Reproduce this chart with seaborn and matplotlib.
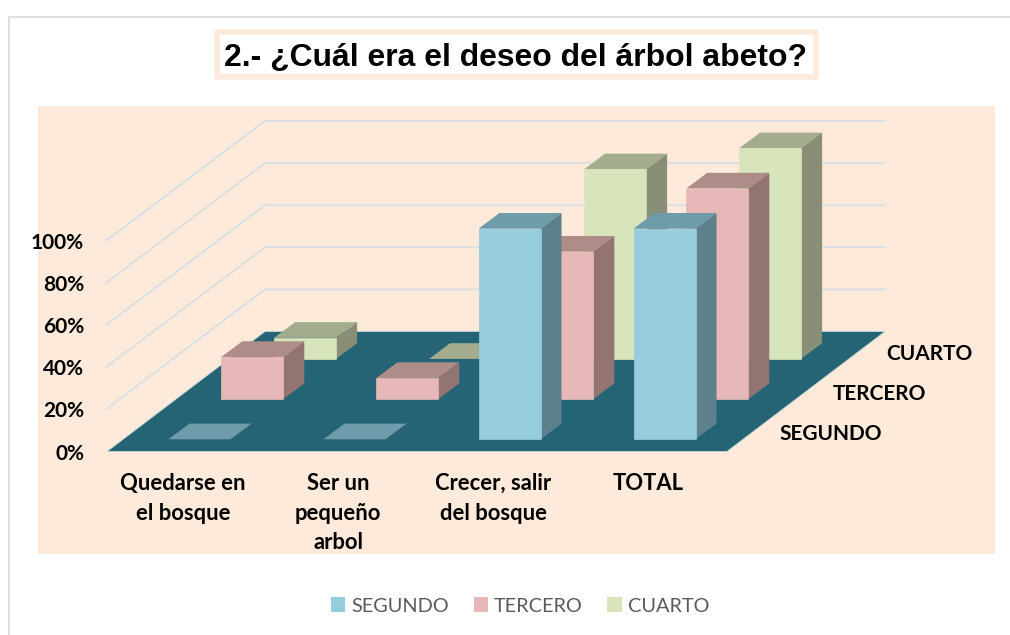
import matplotlib
matplotlib.use("Agg")
import matplotlib.pyplot as plt
from matplotlib.patches import Patch, Polygon, Rectangle
import numpy as np
import seaborn as sns

## Datos

categorias = ["Quedarse en\nel bosque", "Ser un\npequeño\narbol", "Crecer, salir\ndel bosque", "TOTAL"]
series = ["SEGUNDO", "TERCERO", "CUARTO"]
segundo = [0, 0, 100, 100]
tercero = [20, 10, 70, 100]
cuarto = [10, 0, 90, 100]
ticks = [0, 20, 40, 60, 80, 100]
titulo = "2.- ¿Cuál era el deseo del árbol abeto?"

## Colores: (frente, lado, tapa)

COLORES = {
    "SEGUNDO": ("#95cddd", "#5c808c", "#6f9cab"),
    "TERCERO": ("#e6b9b8", "#927473", "#ae8c88"),
    "CUARTO": ("#d8e4bc", "#898f77", "#a3ad8e"),
}
PANEL = "#fdeada"
PISO = "#246475"
REJILLA = "#dcdfe2"

# escala de la proyeccion oblicua, en pixeles de la imagen
PX_CAT = 155.0
PX_PCT = 2.106
X0 = 199.5
Y0 = 439.3
ANCHO = 0.4
PROF_X = 21 / PX_CAT
PROF_Y = 15.7 / PX_PCT
SERIE_X = 52.8 / PX_CAT
SERIE_Y = 40.2 / PX_PCT

sns.set_theme(style="white")
plt.rcParams["font.family"] = ["Lato", "DejaVu Sans"]

fig = plt.figure(figsize=(10.10, 6.35), dpi=100)

# Fondo en pixeles: marco, panel, paredes, piso y textos
fondo = fig.add_axes([0, 0, 1, 1])
fondo.set_xlim(0, 1010)
fondo.set_ylim(635, 0)
fondo.axis("off")

fondo.plot([8.5, 8.5, 1010], [635, 16.5, 16.5], color="#d9d9d9", lw=1.2)
fondo.add_patch(Rectangle((38, 106), 957, 448, fc=PANEL, ec="none"))

# Rejilla de las paredes
for t in ticks[1:]:
    y = 451.5 - t * PX_PCT
    fondo.plot([106, 265, 885], [y, y - 120, y - 120], color=REJILLA, lw=1.4)

fondo.add_patch(Polygon([(107, 451.5), (727, 451.5), (885, 331.5), (265, 331.5)],
                        fc=PISO, ec="#c9d6d6", lw=0.6))

# Titulo
fondo.add_patch(Rectangle((216.5, 31.5), 599, 45, fc="white", ec=PANEL, lw=4, joinstyle="round"))
fondo.text(515.5, 58, titulo, ha="center", va="center", fontsize=22.95, fontweight="bold",
           family="Liberation Sans", color="black")

# Etiquetas de los ejes
for t in ticks:
    fondo.text(84, 453.5 - t * PX_PCT, f"{t}%", ha="right", va="center",
               fontsize=15, fontweight="bold", color="black")

for i, cat in enumerate(categorias):
    for j, linea in enumerate(cat.split("\n")):
        fondo.text(183 + i * PX_CAT, 483.5 + j * 29.7, linea, ha="center", va="center",
                   fontsize=15.8, fontweight="bold", color="black")

for s, nombre in enumerate(series):
    fondo.text(779 + s * 53.5, 434.5 - s * 40.5, nombre, ha="left", va="center",
               fontsize=15, fontweight="bold", color="black")

# Barras: cada serie se dibuja de atras hacia adelante
ax = fig.add_axes([0, 0, 1, 1], facecolor="none")

valores = {"SEGUNDO": segundo, "TERCERO": tercero, "CUARTO": cuarto}
posiciones = np.arange(len(categorias), dtype=float)

for s in reversed(range(len(series))):
    nombre = series[s]
    vals = np.array(valores[nombre], dtype=float)
    frente, lado, tapa = COLORES[nombre]
    xs = posiciones + s * SERIE_X
    base = s * SERIE_Y
    z = 10 - s

    for x, v in zip(xs, vals):
        izq, der = x - ANCHO / 2, x + ANCHO / 2
        ax.add_patch(Polygon([(izq, base + v), (der, base + v),
                              (der + PROF_X, base + v + PROF_Y), (izq + PROF_X, base + v + PROF_Y)],
                             fc=tapa, ec="none", zorder=z))
        if v > 0:
            ax.add_patch(Polygon([(der, base), (der + PROF_X, base + PROF_Y),
                                  (der + PROF_X, base + v + PROF_Y), (der, base + v)],
                                 fc=lado, ec="none", zorder=z))

    visibles = vals > 0
    sns.barplot(x=xs[visibles], y=vals[visibles], bottom=base, native_scale=True, width=ANCHO,
                color=frente, saturation=1, errorbar=None, edgecolor=frente, linewidth=0.5,
                zorder=z + 0.5, ax=ax)

ax.set_xlim((0 - X0) / PX_CAT, (1010 - X0) / PX_CAT)
ax.set_ylim((Y0 - 635) / PX_PCT, Y0 / PX_PCT)
ax.axis("off")

# Leyenda
manejadores = [Patch(fc=COLORES[n][0], ec="none", label=n) for n in series]
fondo.legend(handles=manejadores, loc="center", bbox_to_anchor=(520, 606),
             bbox_transform=fondo.transData, ncol=3, frameon=False, fontsize=14.3,
             labelcolor="#595959", handlelength=0.72, handleheight=0.72,
             handletextpad=0.3, columnspacing=1.25)

fig.savefig("out.png", dpi=100)
